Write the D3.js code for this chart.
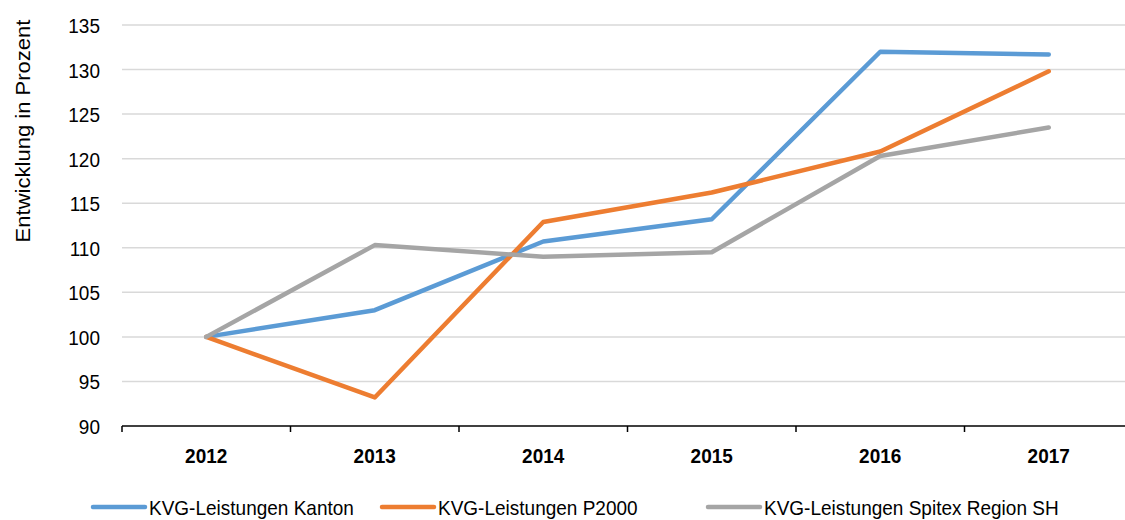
<!DOCTYPE html>
<html>
<head>
<meta charset="utf-8">
<script src="https://cdn.jsdelivr.net/npm/d3@7"></script>
<style>
  body { margin: 0; background: #fff; }
  text { font-family: "Liberation Sans", Arial, sans-serif; fill: #000; }
</style>
</head>
<body>
<div id="chart"></div>
<script>
const years = ["2012", "2013", "2014", "2015", "2016", "2017"];
const kanton = [100, 103.0, 110.7, 113.2, 132.0, 131.7];
const p2000 = [100, 93.2, 112.9, 116.2, 120.8, 129.8];
const spitex = [100, 110.3, 109.0, 109.5, 120.3, 123.5];
const yTicks = [90, 95, 100, 105, 110, 115, 120, 125, 130, 135];
const seriesNames = ["KVG-Leistungen Kanton", "KVG-Leistungen P2000", "KVG-Leistungen Spitex Region SH"];
const colors = ["#5b9bd5", "#ed7d31", "#a5a5a5"];

var totalW = 1125, totalH = 520;
var margin = { top: 25, left: 122 },
    plotRight = 1133, plotBottom = 426;
// text in the original is stretched a bit vertically
var stretch = "scale(1,1.1)";

var svg = d3.select("#chart")
    .append("svg")
    .attr("width", totalW)
    .attr("height", totalH);

var x = d3.scaleBand()
    .domain(years)
    .range([margin.left, plotRight]);

var y = d3.scaleLinear()
    .domain([90, 135])
    .range([plotBottom, margin.top]);

// gridlines
svg.append("g")
    .selectAll("line")
    .data(yTicks.filter(d => d > 90))
    .enter().append("line")
    .attr("x1", margin.left)
    .attr("x2", plotRight)
    .attr("y1", d => y(d))
    .attr("y2", d => y(d))
    .attr("stroke", "#d9d9d9")
    .attr("stroke-width", 1.5);

// y tick labels
svg.append("g")
    .selectAll("text")
    .data(yTicks)
    .enter().append("text")
    .attr("transform", d => "translate(100," + (y(d) + 8) + ")" + stretch)
    .attr("text-anchor", "end")
    .style("font-size", "19px")
    .text(d => d);

// x axis
var xAxis = svg.append("g")
    .attr("transform", "translate(0," + plotBottom + ")");
xAxis.append("line")
    .attr("x1", margin.left)
    .attr("x2", plotRight)
    .attr("stroke", "#000")
    .attr("stroke-width", 1.5);
var tickPos = years.map(d => x(d)).concat([x(years[years.length - 1]) + x.bandwidth()]);
xAxis.selectAll(".tk")
    .data(tickPos)
    .enter().append("line")
    .attr("x1", d => d)
    .attr("x2", d => d)
    .attr("y1", 0)
    .attr("y2", 6)
    .attr("stroke", "#000")
    .attr("stroke-width", 1.5);
xAxis.selectAll("text")
    .data(years)
    .enter().append("text")
    .attr("transform", d => "translate(" + (x(d) + x.bandwidth() / 2) + ",37)" + stretch)
    .attr("text-anchor", "middle")
    .style("font-size", "19px")
    .style("font-weight", "bold")
    .text(d => d);

// y axis title
svg.append("text")
    .attr("transform", "translate(30,131)rotate(-90)scale(1.13,1)")
    .attr("text-anchor", "middle")
    .style("font-size", "19.5px")
    .text("Entwicklung in Prozent");

// lines
var line = d3.line()
    .x((d, i) => x(years[i]) + x.bandwidth() / 2)
    .y(d => y(d));

[kanton, p2000, spitex].forEach(function (s, i) {
    svg.append("path")
        .attr("d", line(s))
        .attr("fill", "none")
        .attr("stroke", colors[i])
        .attr("stroke-width", 4.5)
        .attr("stroke-linejoin", "round")
        .attr("stroke-linecap", "round");
});

// legend
var legendX = [93, 382, 708];
var legend = svg.append("g");
seriesNames.forEach(function (name, i) {
    legend.append("line")
        .attr("x1", legendX[i])
        .attr("x2", legendX[i] + 52)
        .attr("y1", 507)
        .attr("y2", 507)
        .attr("stroke", colors[i])
        .attr("stroke-width", 4.5)
        .attr("stroke-linecap", "round");
    legend.append("text")
        .attr("transform", "translate(" + (legendX[i] + 56) + ",515)" + stretch)
        .style("font-size", "19px")
        .text(name);
});
</script>
</body>
</html>
